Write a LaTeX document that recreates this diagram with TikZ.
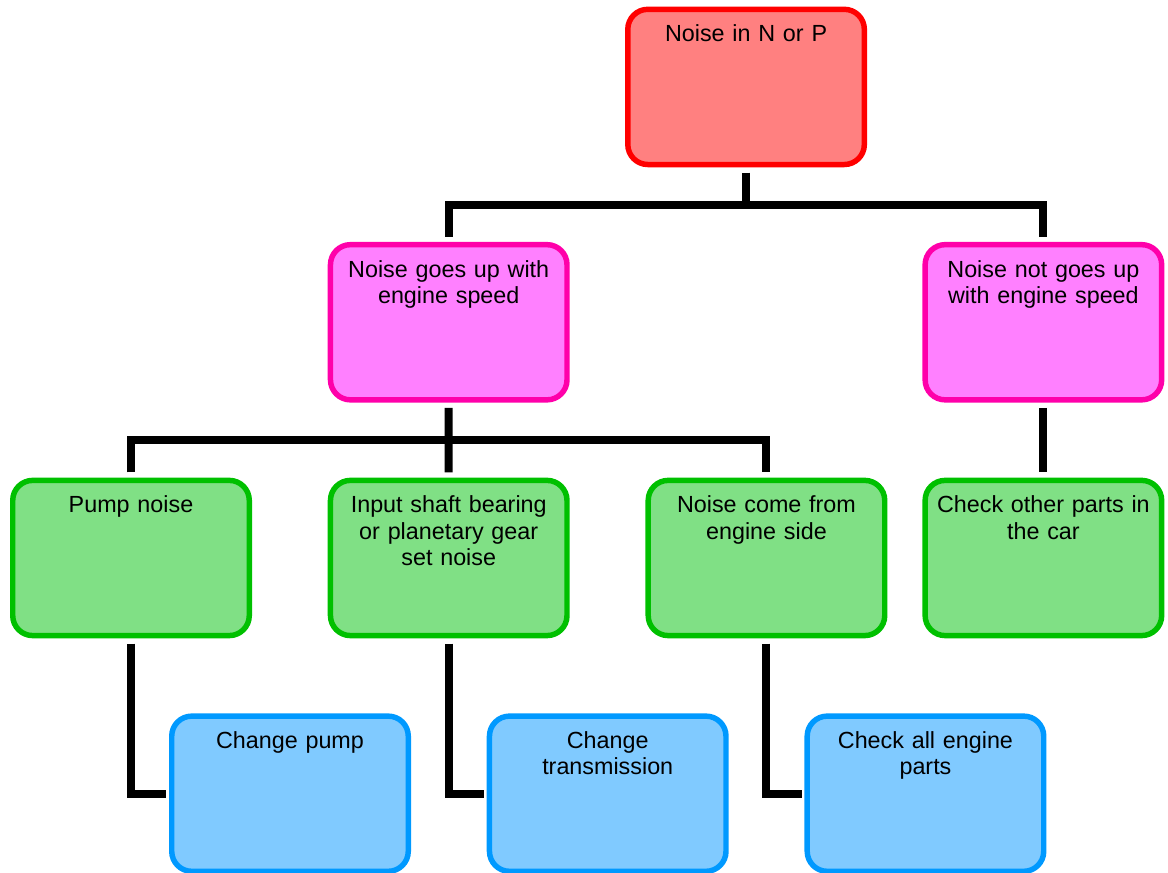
\documentclass[tikz,border=0pt]{standalone}
\usepackage{fontspec}
\setmainfont{Liberation Sans}
\usetikzlibrary{positioning,calc}
\definecolor{RootLine}{HTML}{FF0000}
\definecolor{RootFill}{HTML}{FF8080}
\definecolor{PinkLine}{HTML}{FF00AA}
\definecolor{PinkFill}{HTML}{FF80FF}
\definecolor{GreenLine}{HTML}{00C000}
\definecolor{GreenFill}{HTML}{80E085}
\definecolor{BlueLine}{HTML}{0099FF}
\definecolor{BlueFill}{HTML}{80CAFF}

\begin{document}
\begin{tikzpicture}[
  x=0.75pt,y=0.75pt,
  node distance=56.3pt and 56.8pt,
  box/.style={rectangle,rounded corners=15pt,line width=4.1pt,
              minimum width=177.4pt,minimum height=116.4pt,
              text width=168pt,align=center,inner xsep=3.5pt,inner ysep=11.9pt,
              text height=12.5pt,text depth=80.1pt,
              font=\fontsize{17.5}{19.7}\selectfont},
  rootbox/.style={box,draw=RootLine,fill=RootFill},
  pinkbox/.style={box,draw=PinkLine,fill=PinkFill},
  greenbox/.style={box,draw=GreenLine,fill=GreenFill},
  bluebox/.style={box,draw=BlueLine,fill=BlueFill},
  link/.style={line width=6pt,shorten <=4pt,shorten >=4pt}
]
  \useasboundingbox (0,0) rectangle (1168,873);

  % third row
  \node[greenbox] (pump) at (131,315) {Pump noise};
  \node[greenbox,right=of pump]  (input) {Input shaft bearing\\or planetary gear\\set noise};
  \node[greenbox,right=of input] (come)  {Noise come from\\engine side};
  \node[greenbox,right=26.2pt of come] (other) {Check other parts in\\the car};

  % second row and top
  \node[pinkbox,above=of input] (goesup)  {Noise goes up with\\engine speed};
  \node[pinkbox,above=of other] (notgoes) {Noise not goes up\\with engine speed};
  \coordinate (topmid) at ($(goesup.north)!.5!(notgoes.north)$);
  \node[rootbox,above=56pt of topmid] (root) {Noise in N or P};

  % last row
  \coordinate (m1) at ($(pump.south)+(159,0)$);
  \coordinate (m2) at ($(input.south)+(159,0)$);
  \coordinate (m3) at ($(come.south)+(159,0)$);
  \node[bluebox,below=of m1] (chpump)  {Change pump};
  \node[bluebox,below=of m2] (chtrans) {Change\\transmission};
  \node[bluebox,below=of m3] (chall)   {Check all engine\\parts};

  % connectors
  \coordinate (topbar) at ($(root.south)!.5!(root.south |- goesup.north)$);
  \draw[link,shorten >=0pt] (root.south) -- (topbar);
  \draw[link] (goesup.north) |- (topbar) -| (notgoes.north);

  \coordinate (midbar) at ($(goesup.south)!.5!(goesup.south |- input.north)$);
  \draw[link,shorten >=0pt] (goesup.south) -- (midbar);
  \draw[link] (pump.north) |- (midbar) -| (come.north);
  \draw[link,shorten <=0pt] (midbar) -- (input.north);
  \draw[link] (notgoes.south) -- (other.north);

  \draw[link,shorten >=2pt] (pump.south) |- (chpump.west);
  \draw[link,shorten >=2pt] (input.south) |- (chtrans.west);
  \draw[link,shorten >=2pt] (come.south) |- (chall.west);
\end{tikzpicture}
\end{document}
